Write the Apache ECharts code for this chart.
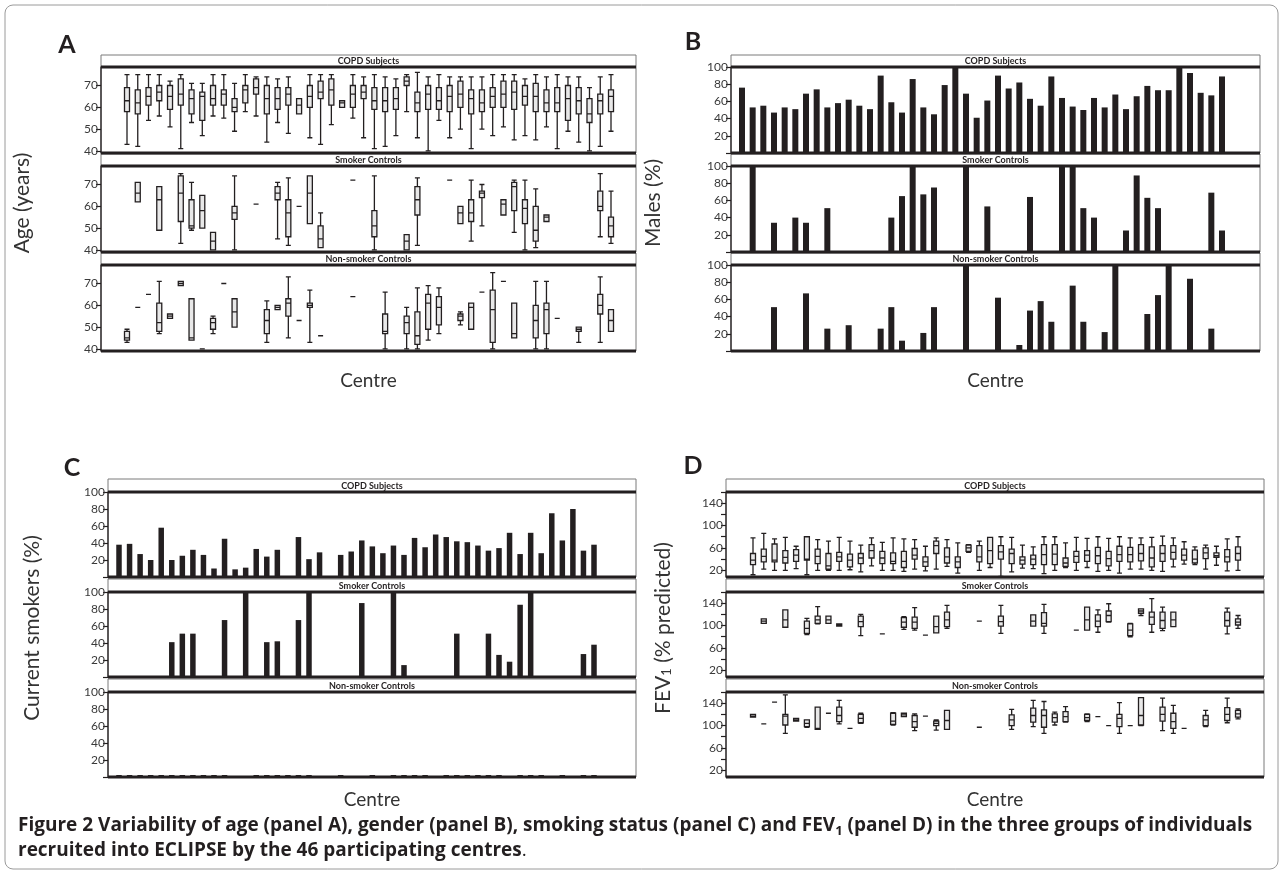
<!DOCTYPE html>
<html>
<head>
<meta charset="utf-8">
<script src="https://cdn.jsdelivr.net/npm/echarts@6/dist/echarts.min.js"></script>
<style>html,body{margin:0;padding:0;background:#fff}#chart{width:1283px;height:876px}</style>
</head>
<body>
<div id="chart"></div>
<script>
// centres 1..46
var centres = ['1','2','3','4','5','6','7','8','9','10','11','12','13','14','15','16','17','18','19','20','21','22','23',
  '24','25','26','27','28','29','30','31','32','33','34','35','36','37','38','39','40','41','42','43','44','45','46'];
var groups = ['COPD Subjects', 'Smoker Controls', 'Non-smoker Controls'];

// which centres recruited controls
var smokerCentres = [2,4,6,7,8,9,11,13,15,16,17,18,19,22,24,27,28,31,32,33,34,36,37,38,39,40,45,46];
var nonSmokerCentres = [1,2,3,4,5,6,7,8,9,10,11,14,15,16,17,18,19,22,25,27,28,29,30,32,33,34,35,36,37,39,40,41,43,45,46];

// panel A: age, [min, Q1, median, Q3, max]
var ageCopd = [
  [43,58,63,69,75],[42,57,62,68,75],[54,61,65,69,75],[56,63,67,70,75],[51,59,65,70,72],[41,61,66,73,75],
  [53,57,64,68,71],[47,54,65,67,71],[56,61,64,70,75],[55,61,66,68,75],[49,58,60,64,71],[58,62,68,70,75],
  [56,66,69,73,74],[44,57,64,70,74],[53,59,64,69,73],[48,61,66,69,74],[57,57,61,64,64],[46,60,65,70,75],
  [43,64,67,72,75],[52,61,68,73,75],[60,60,62,63,63],[55,60,66,70,75],[46,64,67,70,74],[41,59,63,69,75],
  [42,58,63,69,74],[47,59,64,69,73],[58,70,72,74,75],[46,58,62,67,76],[40,59,66,70,74],[54,59,63,69,75],
  [46,58,65,70,74],[50,60,66,72,74],[41,57,64,68,74],[50,58,62,68,74],[47,60,65,69,75],[51,60,66,72,75],
  [45,59,67,72,75],[47,61,65,70,73],[45,58,65,71,75],[51,58,62,68,74],[41,58,62,69,75],[49,54,64,70,74],
  [44,57,63,69,74],[40,53,57,64,69],[42,57,63,66,74],[49,58,65,68,75]
];
var ageSmoker = [
  [62,62,66,71,71],[49,49,63,69,69],[43,53,66,74,75],[49,50,51,63,71],[50,50,58,65,65],[40,40,44,48,48],
  [40,54,57,60,74],[61,61,61,61,61],[45,63,66,69,71],[42,46,57,63,73],[60,60,60,60,60],[52,52,66,74,74],
  [41,41,45,51,57],[72,72,72,72,72],[40,46,51,58,74],[40,40,44,47,47],[42,56,63,69,73],[72,72,72,72,72],
  [52,52,57,60,60],[44,53,57,63,72],[51,64,66,67,70],[56,56,61,63,63],[48,58,69,71,72],[40,52,59,63,72],
  [41,44,49,60,68],[53,53,55,56,56],[46,58,60,67,75],[43,46,51,55,67]
];
var ageNonSmoker = [
  [43,44,45,48,49],[59,59,59,59,59],[65,65,65,65,65],[47,48,52,61,71],[54,54,55,56,56],[69,69,70,71,71],
  [44,44,45,63,63],[40,40,40,40,40],[47,49,52,54,55],[70,70,70,70,70],[50,50,57,63,63],[43,47,53,58,62],
  [58,58,59,60,60],[45,55,61,63,73],[53,53,53,53,53],[43,59,60,61,67],[46,46,46,46,46],[64,64,64,64,64],
  [40,47,48,56,66],[40,47,52,55,59],[40,42,46,57,68],[44,49,61,65,69],[47,51,59,64,68],[51,53,55,56,57],
  [49,49,59,61,61],[66,66,66,66,66],[40,43,58,67,75],[71,71,71,71,71],[45,45,47,61,61],[40,45,53,60,71],
  [40,47,58,61,71],[54,54,54,54,54],[43,48,49,50,50],[43,56,60,65,73],[48,48,53,58,58]
];

// panel B: males (%)
var malesCopd = [76,53,55,47,53,51,69,74,53,58,62,55,51,90,59,47,86,53,45,79,100,69,41,61,90,75,82,63,55,89,
  64,54,50,64,53,68,51,66,78,73,73,100,93,70,67,89];
var malesSmoker = [0,100,0,34,0,40,34,0,51,0,0,0,0,0,40,65,100,67,75,0,0,100,0,53,0,0,0,64,0,0,
  100,100,51,40,0,0,25,89,63,51,0,0,0,0,69,25];
var malesNonSmoker = [0,0,0,51,0,0,67,0,26,0,30,0,0,26,51,12,0,21,51,0,0,100,0,0,62,0,7,47,58,34,
  0,76,34,0,22,100,0,0,43,65,100,0,84,0,26,0];

// panel C: current smokers (%)
var smokersCopd = [38,39,27,20,58,20,25,32,26,10,45,9,11,33,24,32,0,47,21,29,0,26,30,43,36,28,37,26,46,35,
  50,47,42,41,37,31,34,52,27,52,28,75,43,80,31,38];
var smokersSmoker = [0,41,51,51,0,67,100,41,42,0,67,100,0,87,100,14,0,0,51,0,51,26,18,85,100,27,38];
var smokersSmokerCentres = [4,6,7,8,9,11,13,15,16,17,18,19,22,24,27,28,31,32,33,34,36,37,38,39,40,45,46];
var smokersNonSmoker = [0,0,0,0,0,0,0,0,0,0,0,0,0,0,0,0,0,0,0,0,0,0,0,0,0,0,0,0,0,0,0,0,0,0,0];

// panel D: FEV1 (% predicted), [min, Q1, median, Q3, max]
var fevCopd = [
  [12,30,38,50,78],[22,35,45,58,86],[20,35,38,67,76],[20,33,43,55,79],[23,36,47,57,63],[12,38,40,80,80],
  [20,32,45,58,75],[20,22,28,50,72],[20,36,44,52,79],[21,26,38,49,72],[17,32,42,50,65],[28,42,55,66,78],
  [20,32,42,54,70],[20,32,36,51,78],[18,25,36,54,76],[22,40,47,59,75],[19,27,35,44,63],[22,50,64,72,78],
  [27,33,44,60,75],[15,25,35,44,69],[52,54,60,65,66],[20,35,44,64,72],[25,32,55,79,79],[9,40,53,64,80],
  [17,32,50,58,79],[24,31,38,44,65],[23,30,40,47,62],[14,30,48,66,80],[20,30,49,66,80],[25,27,33,42,69],
  [20,34,45,54,79],[25,36,47,55,77],[18,32,46,61,80],[20,28,41,54,77],[15,36,48,63,80],[22,35,48,61,78],
  [22,37,50,66,78],[20,26,42,62,79],[18,36,50,64,81],[26,40,52,64,78],[31,38,47,58,71],[30,33,40,56,62],
  [22,41,51,60,65],[29,43,46,51,63],[19,35,44,57,76],[20,38,50,62,80]
];
var fevSmoker = [
  [104,104,108,112,112],[97,97,110,128,128],[84,86,95,108,113],[103,104,110,117,134],[104,104,110,117,117],
  [99,99,101,103,103],[82,98,107,117,120],[85,85,85,85,85],[93,97,106,114,116],[92,95,106,115,132],
  [83,83,83,83,83],[87,87,98,117,117],[95,98,110,124,136],[108,108,108,108,108],[86,99,107,117,136],
  [99,99,108,119,119],[86,99,104,123,138],[92,92,92,92,92],[92,92,110,133,133],[88,98,108,119,128],
  [106,107,118,126,139],[80,82,92,103,104],[118,122,126,130,130],[88,102,115,124,148],[91,95,109,124,133],
  [98,98,110,124,124],[85,99,109,124,131],[95,101,106,112,118]
];
var fevNonSmoker = [
  [115,115,117,120,120],[103,103,103,103,103],[142,142,142,142,142],[86,101,117,120,155],[108,108,110,113,113],
  [97,98,104,110,110],[93,93,95,133,133],[122,122,122,122,122],[103,107,118,133,145],[95,95,95,95,95],
  [104,105,113,120,122],[101,102,108,122,123],[116,116,119,122,122],[91,97,107,118,121],[117,117,117,117,117],
  [92,100,104,108,110],[93,93,109,127,127],[97,97,97,97,97],[93,100,110,119,129],[98,106,118,131,145],
  [86,97,118,128,143],[101,106,114,121,124],[106,107,116,125,134],[107,109,114,120,121],[116,116,116,116,116],
  [100,100,100,100,100],[86,98,113,120,141],[100,100,100,100,100],[100,101,118,150,150],[91,108,120,133,149],
  [86,95,107,122,136],[95,95,95,95,95],[98,100,110,118,127],[105,109,120,132,149],[112,115,121,127,130]
];

var ink = '#231f20';
var font = 'Lato';

// spread a subset of centres over all 46 (boxplot needs fresh arrays)
function boxData(list, stats) {
  var out = centres.map(function () { return ['-','-','-','-','-']; });
  list.forEach(function (c, i) { out[c - 1] = stats[i].slice(); });
  return out;
}
function barData(list, vals) {
  var out = centres.map(function () { return '-'; });
  list.forEach(function (c, i) { out[c - 1] = vals[i]; });
  return out;
}
var allCentres = centres.map(Number);

var panels = [
  {letter: 'A', lx: 67, ly: 45, frame: [101, 636], first: 127, last: 611, top: 55, head: 12, plot: 86, gap: 1,
   yMin: 39, yMax: 78.5, labels: [40,50,60,70], ticks: [40,50,60,70], name: 'Age (years)', nx: 22, cy: 381,
   kind: 'box', sets: [boxData(allCentres, ageCopd), boxData(smokerCentres, ageSmoker), boxData(nonSmokerCentres, ageNonSmoker)]},
  {letter: 'B', lx: 693, ly: 42, frame: [731, 1260], first: 742, last: 1222, top: 55, head: 12, plot: 86, gap: 1,
   yMin: 0, yMax: 100, labels: [20,40,60,80,100], ticks: [0,20,40,60,80,100], name: 'Males (%)', nx: 653, cy: 381,
   kind: 'bar', barWidth: 6, sets: [malesCopd, malesSmoker.map(function (v) { return v || '-'; }), malesNonSmoker.map(function (v) { return v || '-'; })]},
  {letter: 'C', lx: 72, ly: 468, frame: [108, 636], first: 119, last: 594, top: 479, head: 13, plot: 85, gap: 2,
   yMin: 0, yMax: 100, labels: [20,40,60,80,100], ticks: [0,20,40,60,80,100], name: 'Current smokers (%)', nx: 32, cy: 800,
   kind: 'bar', barWidth: 5.5, sets: [smokersCopd, barData(smokersSmokerCentres, smokersSmoker), barData(nonSmokerCentres, smokersNonSmoker)]},
  {letter: 'D', lx: 693, ly: 466, frame: [726, 1264], first: 753, last: 1238, top: 479, head: 13, plot: 85, gap: 2,
   yMin: 8, yMax: 160, labels: [20,60,100,140], ticks: [20,40,60,80,100,120,140,160], name: '{n|FEV}{s|1}{n| (% predicted)}', nx: 663, cy: 800,
   kind: 'box', sets: [boxData(allCentres, fevCopd), boxData(smokerCentres, fevSmoker), boxData(nonSmokerCentres, fevNonSmoker)]}
];

var grids = [], xAxes = [], yAxes = [], series = [], graphics = [];

graphics.push({type: 'rect', z: 0, shape: {x: 5, y: 5, width: 1273, height: 864, r: 8},
  style: {fill: 'none', stroke: '#9a9a9a', lineWidth: 1}});

panels.forEach(function (p) {
  var band = (p.last - p.first) / 45;
  var gl = p.first - band / 2;
  var fw = p.frame[1] - p.frame[0];
  for (var s = 0; s < 3; s++) {
    var k = grids.length;
    var hTop = p.top + s * (p.head + p.plot + p.gap);
    var pTop = hTop + p.head;
    var pBot = pTop + p.plot;
    grids.push({left: gl, top: pTop, width: band * 46, height: p.plot});
    xAxes.push({type: 'category', gridIndex: k, data: centres, show: false, boundaryGap: true});
    yAxes.push({
      type: 'value', gridIndex: k, min: p.yMin, max: p.yMax, offset: gl - p.frame[0],
      splitLine: {show: false},
      axisLine: {show: true, lineStyle: {color: ink, width: 1.5}},
      axisTick: {show: true, length: 5, customValues: p.ticks, lineStyle: {color: ink, width: 1.2}},
      axisLabel: {customValues: p.labels, fontSize: 12, color: '#3a3a3a', fontFamily: font, margin: 3}
    });
    if (p.kind === 'box') {
      series.push({type: 'boxplot', xAxisIndex: k, yAxisIndex: k, data: p.sets[s], boxWidth: [5, 5],
        silent: true, animation: false,
        itemStyle: {color: '#e8e8e8', borderColor: ink, borderWidth: 1.3}});
    } else {
      series.push({type: 'bar', xAxisIndex: k, yAxisIndex: k, data: p.sets[s], barWidth: p.barWidth,
        barMinHeight: (p.letter === 'C' && s === 2) ? 2 : 0,
        silent: true, animation: false, itemStyle: {color: ink}});
    }
    // header strip, group label and plot frame
    graphics.push({type: 'rect', z: 1, shape: {x: p.frame[0], y: hTop, width: fw, height: p.head},
      style: {fill: '#fff', stroke: '#7a7a7a', lineWidth: 1}});
    graphics.push({type: 'text', z: 3, x: p.frame[0] + fw / 2, y: hTop + p.head / 2 + 0.5,
      style: {text: groups[s], fill: ink, font: 'bold 9px ' + font, align: 'center', verticalAlign: 'middle'}});
    graphics.push({type: 'line', z: 3, shape: {x1: p.frame[0], y1: pTop, x2: p.frame[1], y2: pTop},
      style: {stroke: ink, lineWidth: 3}});
    graphics.push({type: 'line', z: 3, shape: {x1: p.frame[0], y1: pBot, x2: p.frame[1], y2: pBot},
      style: {stroke: ink, lineWidth: 3}});
    graphics.push({type: 'line', z: 1, shape: {x1: p.frame[1], y1: pTop, x2: p.frame[1], y2: pBot},
      style: {stroke: '#7a7a7a', lineWidth: 1}});
  }
  var midY = p.top + (3 * (p.head + p.plot) + 2 * p.gap) / 2;
  graphics.push({type: 'text', z: 3, x: p.lx, y: p.ly,
    style: {text: p.letter, fill: ink, font: 'bold 25px ' + font, align: 'center', verticalAlign: 'middle'}});
  graphics.push({type: 'text', z: 3, x: p.nx, y: midY, rotation: Math.PI / 2,
    style: {text: p.name, fill: '#333', font: '21px ' + font, align: 'center', verticalAlign: 'middle',
      rich: {n: {fontSize: 21, fontFamily: font, fill: '#333'}, s: {fontSize: 13, fontFamily: font, fill: '#333', verticalAlign: 'bottom', padding: [8, 0, 0, 0]}}}});
  graphics.push({type: 'text', z: 3, x: p.frame[0] + fw / 2, y: p.cy,
    style: {text: 'Centre', fill: '#333', font: '19px ' + font, align: 'center', verticalAlign: 'middle'}});
});

// caption
graphics.push({type: 'text', z: 3, x: 18, y: 826,
  style: {text: '{b|Figure 2 Variability of age (panel A), gender (panel B), smoking status (panel C) and FEV}{s|1}{b| (panel D) in the three groups of individuals}',
    verticalAlign: 'middle',
    rich: {b: {font: 'bold 19px "Open Sans"', fill: ink}, s: {font: 'bold 13px "Open Sans"', fill: ink, padding: [10, 0, 0, 0]}}}});
graphics.push({type: 'text', z: 3, x: 18, y: 851,
  style: {text: '{b|recruited into ECLIPSE by the 46 participating centres}{r|.}', verticalAlign: 'middle',
    rich: {b: {font: 'bold 19px "Open Sans"', fill: ink}, r: {font: '19px "Open Sans"', fill: ink}}}});

var chart = echarts.init(document.getElementById('chart'));
chart.setOption({
  animation: false,
  backgroundColor: '#fff',
  grid: grids,
  xAxis: xAxes,
  yAxis: yAxes,
  series: series,
  graphic: {elements: graphics}
});
</script>
</body>
</html>
